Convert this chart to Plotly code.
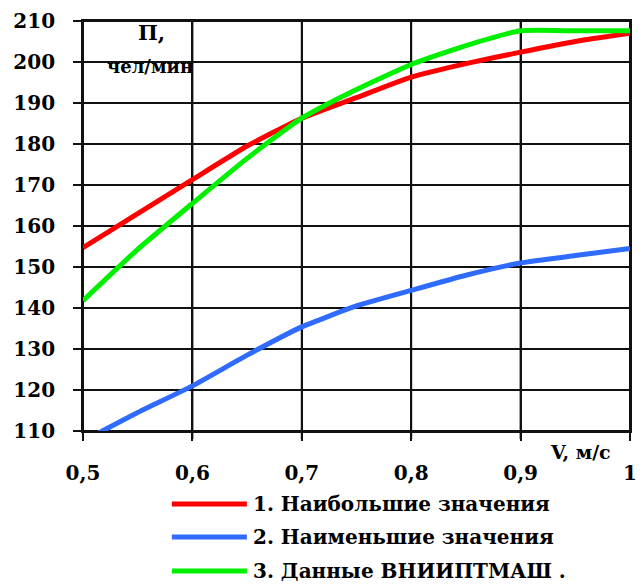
import plotly.graph_objects as go

# ---- data ----
v = [0.50, 0.55, 0.60, 0.65, 0.70, 0.75, 0.80, 0.85, 0.90, 0.95, 1.00]
max_vals = [154.7, 163.0, 171.3, 179.5, 186.3, 191.3, 196.3, 199.6, 202.4, 205.0, 207.0]
min_vals = [107.5, 114.5, 121.0, 128.5, 135.4, 140.5, 144.3, 148.0, 151.0, 152.8, 154.5]
vnii_vals = [141.8, 154.3, 165.5, 176.5, 186.3, 193.3, 199.4, 204.0, 207.6, 207.6, 207.6]

series_names = ["1. Наибольшие значения", "2. Наименьшие значения", "3. Данные ВНИИПТМАШ ."]
series_colors = ["#ff0000", "#2f6bff", "#00f000"]

x_tickvals = [0.5, 0.6, 0.7, 0.8, 0.9, 1.0]
x_ticktext = ["0,5", "0,6", "0,7", "0,8", "0,9", "1"]
y_tickvals = [110, 120, 130, 140, 150, 160, 170, 180, 190, 200, 210]
y_ticktext = [str(t) for t in y_tickvals]

FONT = "DejaVu Serif"
GRID = "#111111"
XMIN, XMAX = x_tickvals[0], x_tickvals[-1]
YMIN, YMAX = y_tickvals[0], y_tickvals[-1]

fig = go.Figure()

# grid lines (drawn first so the curves lie on top), built from the tick arrays
gx, gy = [], []
for xv in x_tickvals:
    gx += [xv, xv, None]
    gy += [YMIN, YMAX, None]
for yv in y_tickvals:
    gx += [XMIN, XMAX, None]
    gy += [yv, yv, None]
fig.add_trace(go.Scatter(x=gx, y=gy, mode="lines", line=dict(color=GRID, width=2),
                         hoverinfo="skip", showlegend=False, connectgaps=False))

for vals, name, col in zip([max_vals, min_vals, vnii_vals], series_names, series_colors):
    fig.add_trace(go.Scatter(x=v, y=vals, mode="lines", name=name,
                             line=dict(color=col, width=5, shape="spline", smoothing=0.5),
                             showlegend=False))

# plot area in pixels
L, R, T, B = 83, 6, 21, 157
W, H = 643, 588
pw, ph = W - L - R, H - T - B
TICK = 8

def px2paper(px, py):
    return (px - L) / pw, (H - B - py) / ph

shapes = []
# short outside tick marks
for xv in x_tickvals:
    xp = (xv - XMIN) / (XMAX - XMIN)
    shapes.append(dict(type="line", xref="paper", yref="paper", x0=xp, x1=xp,
                       y0=-TICK / ph, y1=0, line=dict(color=GRID, width=2)))
for yv in y_tickvals:
    yp = (yv - YMIN) / (YMAX - YMIN)
    shapes.append(dict(type="line", xref="paper", yref="paper", y0=yp, y1=yp,
                       x0=-TICK / pw, x1=0, line=dict(color=GRID, width=2)))

vx, vy = px2paper(587, 452)
annotations = [
    dict(text="П,", x=0.563, y=207.3, xref="x", yref="y", showarrow=False,
         font=dict(family=FONT, size=21, color="black", weight="bold")),
    dict(text="чел/мин", x=0.561, y=198.8, xref="x", yref="y", showarrow=False,
         font=dict(family=FONT, size=18, color="black", weight="bold")),
    dict(text="V, м/с", x=vx, y=vy, xref="paper", yref="paper", showarrow=False,
         xanchor="center", yanchor="middle",
         font=dict(family=FONT, size=19, color="black", weight="bold")),
]
legend_rows = [504, 537, 571]
for name, col, py in zip(series_names, series_colors, legend_rows):
    x0, y0 = px2paper(173, py)
    x1, _ = px2paper(249, py)
    shapes.append(dict(type="line", xref="paper", yref="paper", x0=x0, x1=x1, y0=y0, y1=y0,
                       line=dict(color=col, width=5)))
    tx, ty = px2paper(253, py)
    annotations.append(dict(text=name, x=tx, y=ty, xref="paper", yref="paper",
                            xanchor="left", yanchor="middle", showarrow=False,
                            font=dict(family=FONT, size=20, color="black", weight="bold")))

axis_common = dict(
    tickmode="array",
    showgrid=True, gridcolor=GRID, gridwidth=2,
    showline=True, linecolor=GRID, linewidth=2, mirror=True,
    ticks="outside", ticklen=TICK, tickwidth=2, tickcolor=GRID,
    zeroline=False,
    tickfont=dict(family=FONT, size=20, color="black", weight="bold"),
)

fig.update_layout(
    width=W, height=H,
    margin=dict(l=L, r=R, t=T, b=B, pad=0),
    paper_bgcolor="white", plot_bgcolor="white",
    font=dict(family=FONT, size=20, color="black"),
    annotations=annotations, shapes=shapes,
)
fig.update_xaxes(range=[XMIN, XMAX], tickvals=x_tickvals, ticktext=x_ticktext,
                 ticklabelstandoff=15, **axis_common)
fig.update_yaxes(range=[YMIN, YMAX], tickvals=y_tickvals,
                 ticktext=[t + "\u00a0\u00a0" for t in y_ticktext], **axis_common)

fig.write_html("out.html")
